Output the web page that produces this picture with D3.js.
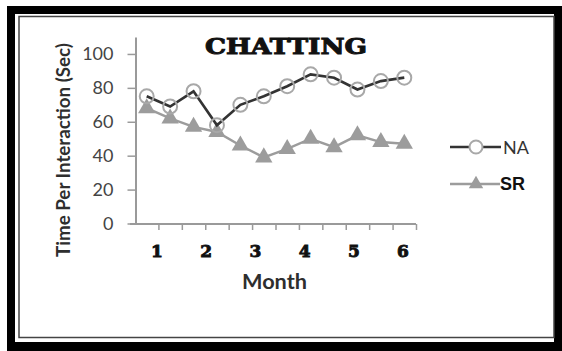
<!DOCTYPE html>
<html>
<head>
<meta charset="utf-8">
<script src="https://cdn.jsdelivr.net/npm/d3@7"></script>
<style>
  html, body { margin: 0; padding: 0; background: #fff; }
  svg { display: block; }
</style>
</head>
<body>
<script>
// Chatting: time per interaction over six months, two readings per month
const periods = ["1a", "1b", "2a", "2b", "3a", "3b", "4a", "4b", "5a", "5b", "6a", "6b"];
const naValues = [75, 69, 78, 58, 70, 75, 81, 88, 86, 79, 84, 86];
const srValues = [68, 62, 57, 54, 46, 39, 44, 50, 45, 52, 48, 47];
const monthLabels = ["1", "2", "3", "4", "5", "6"];
const yTicks = [0, 20, 40, 60, 80, 100];
const seriesNames = ["NA", "SR"];

const W = 562, H = 351;
const svg = d3.select("body").append("svg").attr("width", W).attr("height", H);

// Framed panel
svg.append("rect").attr("x", 7).attr("y", 6).attr("width", W - 7).attr("height", H - 6).attr("fill", "#000");
svg.append("rect").attr("x", 15).attr("y", 14).attr("width", 539).attr("height", 328).attr("fill", "#fff");
svg.append("rect").attr("x", 19).attr("y", 16.5).attr("width", 535).attr("height", 321)
  .attr("fill", "none").attr("stroke", "#444").attr("stroke-width", 1.5);

// Scales
const x = d3.scaleBand().domain(periods).range([135, 416]);
const xc = d => x(d) + x.bandwidth() / 2;
const xTickScale = d3.scaleLinear().domain([0, periods.length]).range([135, 416]);
const y = d3.scaleLinear().domain([0, 110]).range([223.5, 37]);
const monthX = d3.scaleLinear().domain([1, 6]).range([157, 403]);

const axisColor = "#9a9a9a";

// Y axis
const yAxis = svg.append("g").attr("transform", "translate(135.5,0)")
  .call(d3.axisLeft(y).tickValues(yTicks).tickSize(8).tickPadding(14).tickSizeOuter(0));
yAxis.select(".domain").attr("stroke", axisColor).attr("stroke-width", 2);
yAxis.selectAll(".tick line").attr("stroke", axisColor).attr("stroke-width", 1.5);
yAxis.selectAll(".tick text").attr("fill", "#444")
  .style("font-family", "Lato, 'Open Sans', sans-serif").style("font-size", "18px");

// X axis (category boundaries, no labels)
const xAxis = svg.append("g").attr("transform", "translate(0,224)")
  .call(d3.axisBottom(xTickScale).tickValues(d3.range(1, periods.length + 1)).tickSize(6).tickFormat("").tickSizeOuter(0));
xAxis.select(".domain").attr("stroke", axisColor).attr("stroke-width", 2)
  .attr("d", "M130,0H416");
xAxis.selectAll(".tick line").attr("stroke", axisColor).attr("stroke-width", 1.5);

// Month labels
svg.append("g").selectAll("text").data(monthLabels).join("text")
  .attr("x", (d, i) => monthX(i + 1)).attr("y", 257)
  .attr("text-anchor", "middle")
  .style("font-family", "'DejaVu Serif', serif").style("font-weight", "bold").style("font-size", "17px")
  .attr("fill", "#111").attr("stroke", "#111").attr("stroke-width", 0.9).text(d => d);

// Axis titles
svg.append("text").attr("x", 274.5).attr("y", 289).attr("text-anchor", "middle")
  .attr("textLength", 65).attr("lengthAdjust", "spacingAndGlyphs")
  .style("font-family", "Lato, sans-serif").style("font-weight", "bold").style("font-size", "20px")
  .attr("fill", "#2e2e2e").text("Month");

svg.append("text").attr("transform", "translate(70,150) rotate(-90)").attr("text-anchor", "middle")
  .attr("textLength", 214).attr("lengthAdjust", "spacingAndGlyphs")
  .style("font-family", "Lato, sans-serif").style("font-weight", "bold").style("font-size", "18px")
  .attr("fill", "#2e2e2e").text("Time Per Interaction (Sec)");

// Title
svg.append("text").attr("x", 286).attr("y", 54).attr("text-anchor", "middle")
  .attr("textLength", 162).attr("lengthAdjust", "spacingAndGlyphs")
  .style("font-family", "'DejaVu Serif', serif").style("font-weight", "bold").style("font-size", "22px")
  .attr("fill", "#111").attr("stroke", "#111").attr("stroke-width", 1).text("CHATTING");

// Series
const line = d3.line().x((d, i) => xc(periods[i])).y(d => y(d));
const tri = d3.symbol().type(d3.symbolTriangle).size(130);

svg.append("path").datum(srValues).attr("d", line)
  .attr("fill", "none").attr("stroke", "#9c9c9c").attr("stroke-width", 2.5);
svg.append("g").selectAll("path").data(srValues).join("path")
  .attr("d", tri).attr("transform", (d, i) => `translate(${xc(periods[i])},${y(d)})`)
  .attr("fill", "#9c9c9c");

svg.append("path").datum(naValues).attr("d", line)
  .attr("fill", "none").attr("stroke", "#333").attr("stroke-width", 2.7);
svg.append("g").selectAll("circle").data(naValues).join("circle")
  .attr("cx", (d, i) => xc(periods[i])).attr("cy", d => y(d)).attr("r", 7)
  .attr("fill", "none").attr("stroke", "#a8a8a8").attr("stroke-width", 2);

// Legend
const legend = svg.append("g");
legend.append("line").attr("x1", 450).attr("x2", 501).attr("y1", 147).attr("y2", 147)
  .attr("stroke", "#333").attr("stroke-width", 2.5);
legend.append("circle").attr("cx", 476).attr("cy", 147).attr("r", 6.5)
  .attr("fill", "#fff").attr("stroke", "#a8a8a8").attr("stroke-width", 2);
legend.append("text").attr("x", 503).attr("y", 154)
  .style("font-family", "Lato, sans-serif").style("font-size", "18px").attr("fill", "#333").text(seriesNames[0]);

legend.append("line").attr("x1", 450).attr("x2", 500).attr("y1", 184).attr("y2", 184)
  .attr("stroke", "#9c9c9c").attr("stroke-width", 2.5);
legend.append("path").attr("d", d3.symbol().type(d3.symbolTriangle).size(90)).attr("transform", "translate(476,184)").attr("fill", "#9c9c9c");
legend.append("text").attr("x", 500).attr("y", 190)
  .style("font-family", "'Liberation Sans', Arial, sans-serif").style("font-weight", "bold").style("font-size", "18px")
  .attr("fill", "#111").text(seriesNames[1]);
</script>
</body>
</html>
